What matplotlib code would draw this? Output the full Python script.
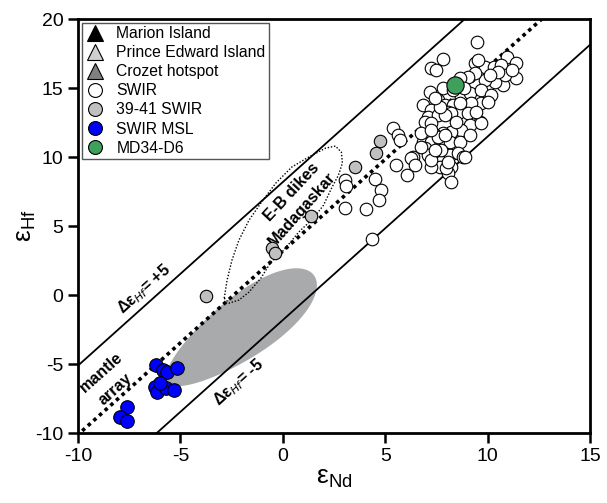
import matplotlib
matplotlib.use("Agg")
import matplotlib.pyplot as plt
import numpy as np
from matplotlib.lines import Line2D

plt.rcParams['font.family'] = ['Liberation Sans', 'DejaVu Sans']
plt.rcParams['axes.unicode_minus'] = False

# --- data (eps Nd, eps Hf) ---
swir_nd = [9.47, 10.97, 11.41, 11.41, 9.37, 9.85, 10.29, 10.63, 10.73, 10.34,
           9.85, 9.37, 9.03, 8.64, 7.82, 7.23, 7.48, 7.82, 7.18, 7.57,
           6.84, 7.23, 7.91, 8.30, 8.69, 9.13, 9.66, 10.15, 9.66, 9.17,
           7.09, 7.57, 8.06, 8.54, 9.03, 9.61, 9.13, 8.69, 8.20, 7.82,
           7.43, 6.94, 6.84, 7.23, 7.67, 8.16, 8.64, 9.13, 6.94, 7.09,
           7.43, 7.72, 8.16, 8.54, 8.79, 8.20, 8.06, 8.20, 7.67, 7.23,
           6.36, 6.07, 5.53, 5.39, 5.63, 5.73, 4.51, 4.81, 4.71, 3.06,
           3.06, 4.08, 4.37, 6.26, 6.94, 7.23, 6.75, 7.57, 6.75, 7.72,
           7.23, 7.96, 10.00, 8.64, 8.20, 9.66, 7.91, 8.88, 8.06, 7.91,
           7.67, 10.87, 10.49, 10.10, 9.51, 11.21, 8.83, 8.30, 7.43, 8.45,
           9.42, 7.23, 6.46, 7.43, 3.11]
swir_hf = [18.33, 17.25, 16.81, 15.72, 16.81, 16.52, 16.52, 16.67, 15.22, 15.43,
           15.58, 16.09, 15.80, 15.72, 17.10, 16.45, 16.30, 15.00, 14.71, 14.13,
           13.77, 13.41, 13.77, 13.77, 14.35, 14.64, 14.86, 14.49, 13.91, 13.91,
           12.90, 13.04, 13.26, 13.19, 13.19, 12.54, 12.32, 11.96, 11.81, 11.74,
           11.59, 11.81, 11.09, 11.09, 11.23, 11.09, 11.09, 11.59, 10.65, 10.14,
           9.78, 9.64, 10.14, 10.29, 10.00, 9.28, 8.84, 8.19, 9.28, 9.28,
           10.00, 8.70, 9.42, 12.10, 11.59, 11.23, 8.41, 7.61, 6.88, 8.33,
           6.30, 6.23, 4.06, 9.93, 12.54, 12.46, 11.74, 11.45, 10.72, 10.51,
           9.78, 9.20, 13.99, 13.91, 13.19, 12.46, 11.59, 10.00, 9.64, 13.04,
           13.62, 15.94, 16.16, 15.94, 17.03, 16.30, 15.00, 14.86, 14.28, 12.54,
           13.26, 11.96, 9.42, 10.51, 7.90]

swir3941_nd = [-3.74, -0.53, -0.39, 1.36, 4.76, 4.56, 3.54]
swir3941_hf = [-0.07, 3.40, 3.04, 5.72, 11.20, 10.30, 9.28]

msl_nd = [-6.17, -5.87, -5.63, -5.19, -6.26, -6.12, -5.68, -5.29, -6.02,
          -7.62, -7.96, -7.62]
msl_hf = [-5.07, -5.43, -5.58, -5.29, -6.67, -7.03, -6.74, -6.88, -6.38,
          -8.12, -8.84, -9.13]

md34_nd = [8.40]
md34_hf = [15.20]

# not plotted in this panel, legend only
marion_nd, marion_hf = [], []
pei_nd, pei_hf = [], []
crozet_nd, crozet_hf = [], []

# mantle array (Hf = slope * Nd + intercept) and +/-5 envelope
array_slope = 1.33
array_icpt = 3.19
delta_hf = 5

# E-B dikes Madagascar field outline
dikes_nd = [-2.86, -2.72, -2.48, -2.14, -1.65, -1.07, -0.34, 0.44, 1.26, 2.09,
            2.57, 2.86, 2.91, 2.72, 2.38, 1.99, 1.50, 0.78, 0.05, -0.58,
            -1.07, -1.65, -2.14, -2.62, -2.86]
dikes_hf = [-0.22, 1.09, 2.54, 3.99, 5.43, 6.67, 8.12, 9.28, 10.00, 10.65,
            10.80, 10.36, 9.57, 8.70, 7.75, 6.52, 5.58, 4.57, 3.26, 2.39,
            1.23, 0.22, -0.36, -0.58, -0.22]

# grey field: centre, half axes (Hf units), tilt, egg factor
field_center = (-2.06, -2.45)
field_a, field_b = 6.6, 2.2
field_angle = 36
field_egg = 0.18
x_stretch = 1.49   # display size of one Nd unit vs one Hf unit

fig = plt.figure(figsize=(6.07, 5.03), dpi=100)
ax = fig.add_axes([0.1285, 0.139, 0.8435, 0.823])

# grey field
t = np.linspace(0, 2 * np.pi, 200)
th = np.radians(field_angle)
u = field_a * np.cos(t)
v = field_b * np.sin(t) * (1 + field_egg * np.cos(t))
ax.fill(field_center[0] + (u * np.cos(th) - v * np.sin(th)) / x_stretch,
        field_center[1] + (u * np.sin(th) + v * np.cos(th)),
        color='#a9aaac', lw=0, zorder=1)

# mantle array + envelope
nd_line = np.array([-12, 17])
ax.plot(nd_line, array_slope * nd_line + array_icpt, color='black', lw=2.6,
        ls=(0, (1, 1.1)), zorder=2)
ax.plot(nd_line, array_slope * nd_line + array_icpt + delta_hf, color='black', lw=1.3, zorder=2)
ax.plot(nd_line, array_slope * nd_line + array_icpt - delta_hf, color='black', lw=1.3, zorder=2)

# dikes outline
ax.plot(dikes_nd, dikes_hf, color='black', lw=1.0, ls=(0, (1, 1.3)), zorder=2)

# samples
ax.scatter(swir_nd, swir_hf, s=82, facecolor='white', edgecolor='black', lw=0.8, zorder=3)
ax.scatter(swir3941_nd, swir3941_hf, s=80, facecolor='#c0c0c0', edgecolor='black', lw=0.8, zorder=4)
ax.scatter(msl_nd, msl_hf, s=95, facecolor='#0000ff', edgecolor='black', lw=0.8, zorder=4)
ax.scatter(md34_nd, md34_hf, s=155, facecolor='#3fa05c', edgecolor='black', lw=0.8, zorder=5)
ax.scatter(marion_nd, marion_hf, marker='^', color='black')
ax.scatter(pei_nd, pei_hf, marker='^', color='#d0d0d0')
ax.scatter(crozet_nd, crozet_hf, marker='^', color='#808080')

# annotations
lab = dict(fontsize=11.5, fontweight='bold', ha='center', va='center',
           rotation_mode='anchor')
ax.text(-8.85, -5.6, 'mantle', rotation=41.7, **lab)
ax.text(-8.2, -6.85, 'array', rotation=41.7, **lab)
ax.text(-6.75, 0.45, r'Δε$_{\mathit{Hf}}$= +5', rotation=41.7, **lab)
ax.text(-2.15, -6.35, r'Δε$_{\mathit{Hf}}$= -5', rotation=41.7, **lab)
ax.text(0.45, 7.45, 'E-B dikes', rotation=47, **lab)
ax.text(0.95, 6.25, 'Madagaskar', rotation=48.5, **lab)

# legend
def tri(c):
    return Line2D([], [], ls='none', marker='^', ms=11, mfc=c, mec='black', mew=0.8)

def circ(c):
    return Line2D([], [], ls='none', marker='o', ms=10, mfc=c, mec='black', mew=0.8)

handles = [tri('black'), tri('#d0d0d0'), tri('#808080'), circ('white'),
           circ('#c0c0c0'), circ('#0000ff'), circ('#3fa05c')]
labels = ['Marion Island', 'Prince Edward Island', 'Crozet hotspot', 'SWIR',
          '39-41 SWIR', 'SWIR MSL', 'MD34-D6']
leg = ax.legend(handles, labels, loc='upper left', fontsize=11.3, frameon=True,
                fancybox=False, edgecolor='#555555', framealpha=1,
                labelspacing=0.26, handletextpad=0.7, handlelength=1.3,
                borderpad=0.2, borderaxespad=0.25)
leg.get_frame().set_linewidth(1.0)

ax.set_xlim(-10, 15)
ax.set_ylim(-10, 20)
ax.set_xticks(range(-10, 16, 5))
ax.set_yticks(range(-10, 21, 5))
ax.tick_params(direction='out', length=7, width=1.8, labelsize=14)
for s in ax.spines.values():
    s.set_linewidth(2)
ax.set_xlabel(r'ε$_{\mathregular{Nd}}$', fontsize=19, labelpad=1)
ax.set_ylabel(r'ε$_{\mathregular{Hf}}$', fontsize=19, labelpad=-2)

fig.savefig('out.png', dpi=100)
